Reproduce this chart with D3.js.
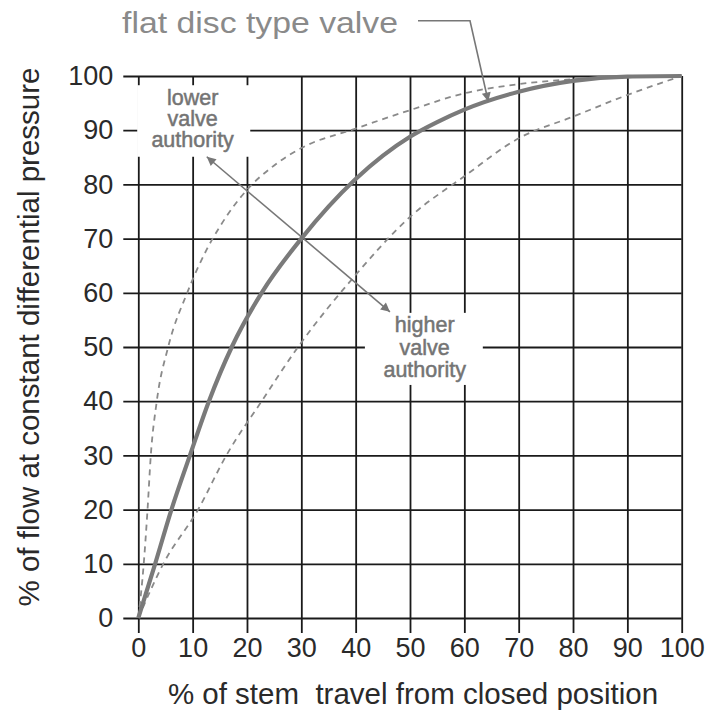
<!DOCTYPE html>
<html>
<head>
<meta charset="utf-8">
<script src="https://cdn.jsdelivr.net/npm/d3@7"></script>
<style>
  body { margin: 0; background: #fff; }
  text { font-family: "Liberation Sans", Arial, sans-serif; }
</style>
</head>
<body>
<div class="chart"></div>
<script>
// tick labels
var travelTicks = [0, 10, 20, 30, 40, 50, 60, 70, 80, 90, 100];
var flowTicks = [0, 10, 20, 30, 40, 50, 60, 70, 80, 90, 100];

// flat disc type valve (solid)
var flatDiscTravel = [0, 3.1, 6.1, 9.5, 13, 17.2, 22.7, 30, 40, 50, 55, 60, 70, 80, 90, 100];
var flatDiscFlow = [0, 10, 20, 30, 40, 50, 60, 70, 81, 88.8, 91.5, 93.8, 97.1, 99.1, 99.9, 100];

// lower valve authority (upper dashed)
var lowerAuthTravel = [0, 1, 1.7, 2.3, 3.4, 5.5, 9, 12.6, 15, 20, 25, 30, 40, 50, 60, 70, 80, 90, 100];
var lowerAuthFlow = [0, 10, 20, 30, 40, 50, 60, 68, 72.2, 79, 83.5, 86.7, 90.3, 93.7, 96.8, 98.5, 99.4, 99.8, 100];

// higher valve authority (lower dashed)
var higherAuthTravel = [0, 4.6, 11, 16.2, 22.7, 29.4, 40, 50, 60, 70, 80, 90, 100];
var higherAuthFlow = [0, 10, 20, 30, 40, 50, 63.3, 74, 81.5, 88.5, 92.5, 96.5, 100];

var width = 708;
var height = 711;

var svg = d3.select(".chart")
  .append("svg")
  .attr("width", width)
  .attr("height", height);

var x = d3.scaleLinear().domain([0, 100]).range([138.3, 681.7]);
var y = d3.scaleLinear().domain([0, 100]).range([618, 76]);

var tickOut = 15;
var ink = '#1a1a1a';

function styleAxis(g) {
  g.attr('font-size', 27)
    .attr('font-family', '"Liberation Sans", Arial, sans-serif');
  g.select('.domain').remove();
  g.selectAll('line').attr('stroke', ink).attr('stroke-width', 1.8);
  g.selectAll('text').attr('fill', '#2a2a2a');
}

// vertical grid + x axis
svg.append('g')
  .attr('transform', `translate(0, ${y(0) + tickOut})`)
  .call(d3.axisBottom(x)
    .tickValues(travelTicks)
    .tickSize(-(y(0) + tickOut - y(100)))
    .tickPadding(5)
    .tickFormat(d3.format('d')))
  .call(styleAxis);

// horizontal grid + y axis
svg.append('g')
  .attr('transform', `translate(${x(0) - tickOut}, 0)`)
  .call(d3.axisLeft(y)
    .tickValues(flowTicks)
    .tickSize(-(x(100) - x(0) + tickOut))
    .tickPadding(10)
    .tickFormat(d3.format('d')))
  .call(styleAxis);

// white boxes behind the annotation labels
var boxes = [
  { x0: -0.2, x1: 20.6, y0: 98.3, y1: 85.1 },
  { x0: 41.7, x1: 63.4, y0: 56.3, y1: 43 }
];
svg.selectAll('rect.box')
  .data(boxes)
  .enter()
  .append('rect')
  .classed('box', true)
  .attr('x', d => x(d.x0))
  .attr('y', d => y(d.y0))
  .attr('width', d => x(d.x1) - x(d.x0))
  .attr('height', d => y(d.y1) - y(d.y0))
  .attr('fill', '#fff');

// curves
var line = d3.line()
  .x(d => x(d[0]))
  .y(d => y(d[1]))
  .curve(d3.curveMonotoneX);

var series = [
  { tx: lowerAuthTravel, fy: lowerAuthFlow, color: '#8a8a8a', w: 1.8, dash: '6,5' },
  { tx: higherAuthTravel, fy: higherAuthFlow, color: '#8a8a8a', w: 1.8, dash: '6,5' },
  { tx: flatDiscTravel, fy: flatDiscFlow, color: '#7a7a7a', w: 4.2, dash: null }
];

svg.selectAll('path.curve')
  .data(series)
  .enter()
  .append('path')
  .classed('curve', true)
  .attr('d', d => line(d3.zip(d.tx, d.fy)))
  .attr('fill', 'none')
  .attr('stroke', d => d.color)
  .attr('stroke-width', d => d.w)
  .attr('stroke-dasharray', d => d.dash)
  .attr('stroke-linecap', 'butt');

// arrow markers
svg.append('defs')
  .append('marker')
  .attr('id', 'head')
  .attr('viewBox', '0 0 10 10')
  .attr('refX', 10)
  .attr('refY', 5)
  .attr('markerUnits', 'userSpaceOnUse')
  .attr('markerWidth', 14)
  .attr('markerHeight', 9)
  .attr('orient', 'auto-start-reverse')
  .append('path')
  .attr('d', 'M0,0L10,5L0,10z')
  .attr('fill', '#777');

// double arrow between the two labels
svg.append('line')
  .attr('x1', x(12.6)).attr('y1', y(85.1))
  .attr('x2', x(46.3)).attr('y2', y(56.5))
  .attr('stroke', '#777')
  .attr('stroke-width', 1.6)
  .attr('marker-start', 'url(#head)')
  .attr('marker-end', 'url(#head)');

// leader from the title down to the solid curve
svg.append('path')
  .attr('d', `M418,20.7L470,20.7L${x(64.4)},${y(95.3)}`)
  .attr('fill', 'none')
  .attr('stroke', '#777')
  .attr('stroke-width', 1.6)
  .attr('marker-end', 'url(#head)');

// annotation labels
var notes = [
  { cx: 10, lines: ['lower', 'valve', 'authority'], base: 105, step: 21 },
  { cx: 52.7, lines: ['higher', 'valve', 'authority'], base: 332, step: 22.5 }
];
notes.forEach(function (n) {
  svg.append('text')
    .attr('x', x(n.cx))
    .attr('text-anchor', 'middle')
    .attr('font-size', 21.5)
    .attr('fill', '#747474')
    .attr('stroke', '#747474')
    .attr('stroke-width', 0.5)
    .selectAll('tspan')
    .data(n.lines)
    .enter()
    .append('tspan')
    .attr('x', x(n.cx))
    .attr('y', (d, i) => n.base + i * n.step)
    .text(d => d);
});

// title
svg.append('text')
  .attr('x', 122)
  .attr('y', 33)
  .attr('font-size', 30)
  .attr('textLength', 276)
  .attr('lengthAdjust', 'spacingAndGlyphs')
  .attr('fill', '#8a8a8a')
  .text('flat disc type valve');

// axis titles
svg.append('text')
  .attr('x', 413)
  .attr('y', 704)
  .attr('text-anchor', 'middle')
  .attr('font-size', 29.5)
  .attr('fill', '#2a2a2a')
  .style('white-space', 'pre')
  .text('% of stem  travel from closed position');

svg.append('text')
  .attr('transform', 'translate(39, 337) rotate(-90)')
  .attr('text-anchor', 'middle')
  .attr('font-size', 29.5)
  .attr('fill', '#2a2a2a')
  .text('% of flow at constant differential pressure');
</script>
</body>
</html>
